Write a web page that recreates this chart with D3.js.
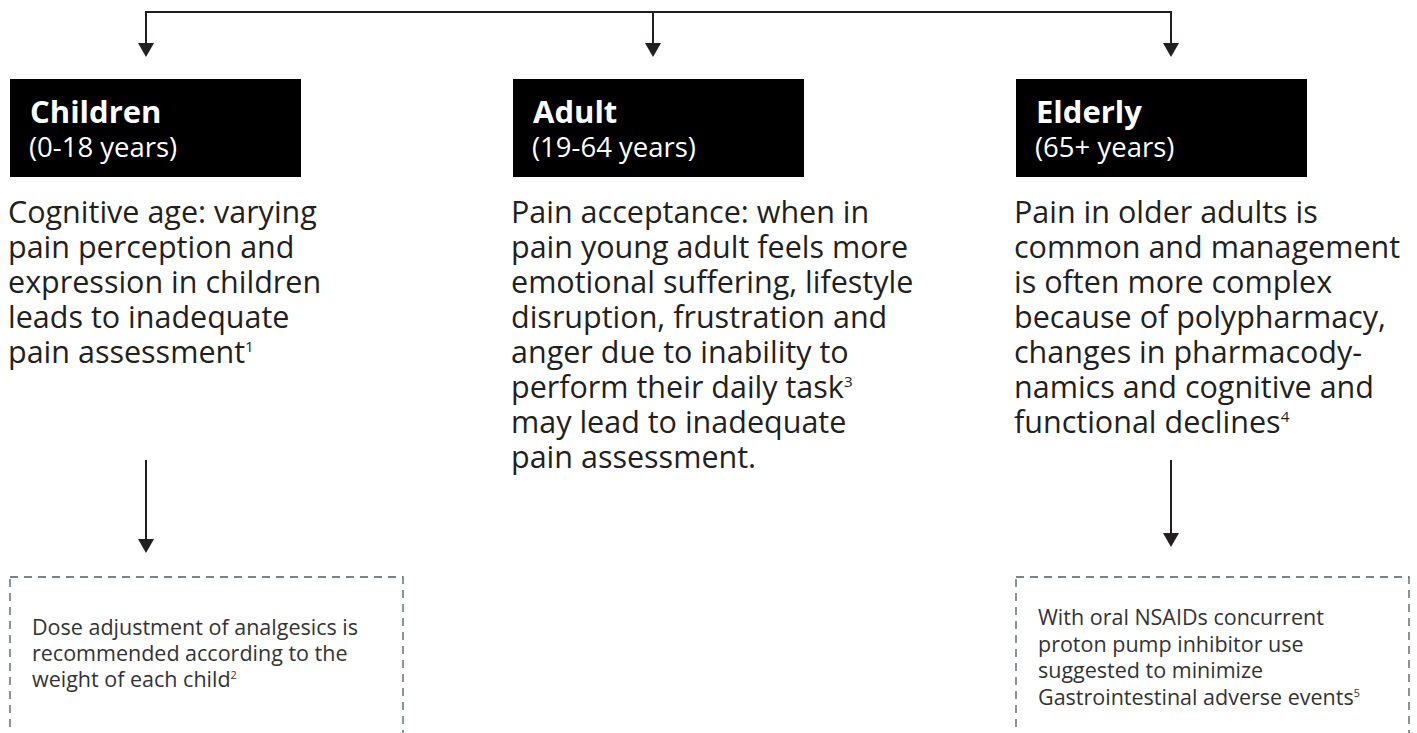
<!DOCTYPE html>
<html>
<head>
<meta charset="utf-8">
<script src="https://cdn.jsdelivr.net/npm/d3@7"></script>
<style>
  body { margin: 0; background: #fff; }
  svg { display: block; font-family: "Open Sans", "Noto Sans", sans-serif; }
</style>
</head>
<body>
<svg id="chart" width="1417" height="733"></svg>
<script>
  // the three age groups and their texts
  var groups = ["Children", "Adult", "Elderly"];
  var ageRanges = ["(0-18 years)", "(19-64 years)", "(65+ years)"];
  // each line is [text, superscript]
  var descriptions = [
    [["Cognitive age: varying"], ["pain perception and"], ["expression in children"],
     ["leads to inadequate"], ["pain assessment", "1"]],
    [["Pain acceptance: when in"], ["pain young adult feels more"], ["emotional suffering, lifestyle"],
     ["disruption, frustration and"], ["anger due to inability to"], ["perform their daily task", "3"],
     ["may lead to inadequate"], ["pain assessment."]],
    [["Pain in older adults is"], ["common and management"], ["is often more complex"],
     ["because of polypharmacy,"], ["changes in pharmacody-"], ["namics and cognitive and"],
     ["functional declines", "4"]]
  ];
  var notes = [
    [["Dose adjustment of analgesics is"], ["recommended according to the"], ["weight of each child", "2"]],
    null,
    [["With oral NSAIDs concurrent"], ["proton pump inhibitor use"], ["suggested to minimize"],
     ["Gastrointestinal adverse events", "5"]]
  ];

  var svg = d3.select("#chart");
  var ink = "#231f20";

  // column positions
  var x = d3.scaleBand().domain(groups).range([10, 1519]).paddingInner(0);
  var arrowOffset = {"Children": 136, "Adult": 140, "Elderly": 155};
  var boxW = 291, boxH = 98, boxTop = 79;
  var topY = 12;

  function arrowX(g) { return x(g) + arrowOffset[g]; }

  function arrowHead(cx, tipY) {
    return "M" + (cx - 8) + "," + (tipY - 14) + "L" + (cx + 8) + "," + (tipY - 14) + "L" + cx + "," + tipY + "Z";
  }

  // top connector
  svg.append("line")
    .attr("x1", arrowX(groups[0])).attr("x2", arrowX(groups[groups.length - 1]))
    .attr("y1", topY).attr("y2", topY)
    .attr("stroke", ink).attr("stroke-width", 2);

  var col = svg.selectAll(".col").data(groups).enter()
    .append("g").attr("class", "col");

  col.append("line")
    .attr("x1", arrowX).attr("x2", arrowX)
    .attr("y1", topY - 1).attr("y2", 45)
    .attr("stroke", ink).attr("stroke-width", 2);

  col.append("path")
    .attr("d", function(g) { return arrowHead(arrowX(g), 57); })
    .attr("fill", ink);

  // black header boxes
  col.append("rect")
    .attr("x", function(g) { return x(g); })
    .attr("y", boxTop)
    .attr("width", boxW).attr("height", boxH)
    .attr("fill", "#000");

  col.append("text")
    .attr("x", function(g) { return x(g) + 20; })
    .attr("y", 123)
    .attr("fill", "#fff")
    .style("font-size", "31px")
    .style("font-weight", 700)
    .text(function(g) { return g; });

  col.append("text")
    .attr("x", function(g) { return x(g) + 19; })
    .attr("y", 157)
    .attr("fill", "#fff")
    .style("font-size", "27.5px")
    .text(function(g, i) { return ageRanges[i]; });

  // one text per line so the lines stay separate
  function writeLines(sel, lines, x0, y0, lh, size, color) {
    lines.forEach(function(line, j) {
      var t = sel.append("text")
        .attr("x", x0).attr("y", y0 + j * lh)
        .attr("fill", color).style("font-size", size + "px");
      t.append("tspan").text(line[0]);
      if (line[1]) {
        t.append("tspan")
          .attr("dy", -size * 0.36)
          .style("font-size", (size * 0.5) + "px")
          .text(line[1]);
      }
    });
  }

  col.each(function(g, i) {
    var c = d3.select(this);
    writeLines(c, descriptions[i], x(g) - 2, 223, 35, 30.5, ink);

    if (notes[i]) {
      var ax = arrowX(g);
      var tip = g == "Children" ? 553 : 547;
      c.append("line")
        .attr("x1", ax).attr("x2", ax)
        .attr("y1", 460).attr("y2", tip - 12)
        .attr("stroke", ink).attr("stroke-width", 2);
      c.append("path").attr("d", arrowHead(ax, tip)).attr("fill", ink);

      c.append("rect")
        .attr("x", x(g)).attr("y", 577)
        .attr("width", 393).attr("height", 200)
        .attr("fill", "none")
        .attr("stroke", "#4b5a63")
        .attr("stroke-width", 1.3)
        .attr("stroke-dasharray", "8,6");

      writeLines(c, notes[i], x(g) + 22, g == "Children" ? 635 : 625, g == "Children" ? 26 : 26.5, 21.5, "#333");
    }
  });
</script>
</body>
</html>
